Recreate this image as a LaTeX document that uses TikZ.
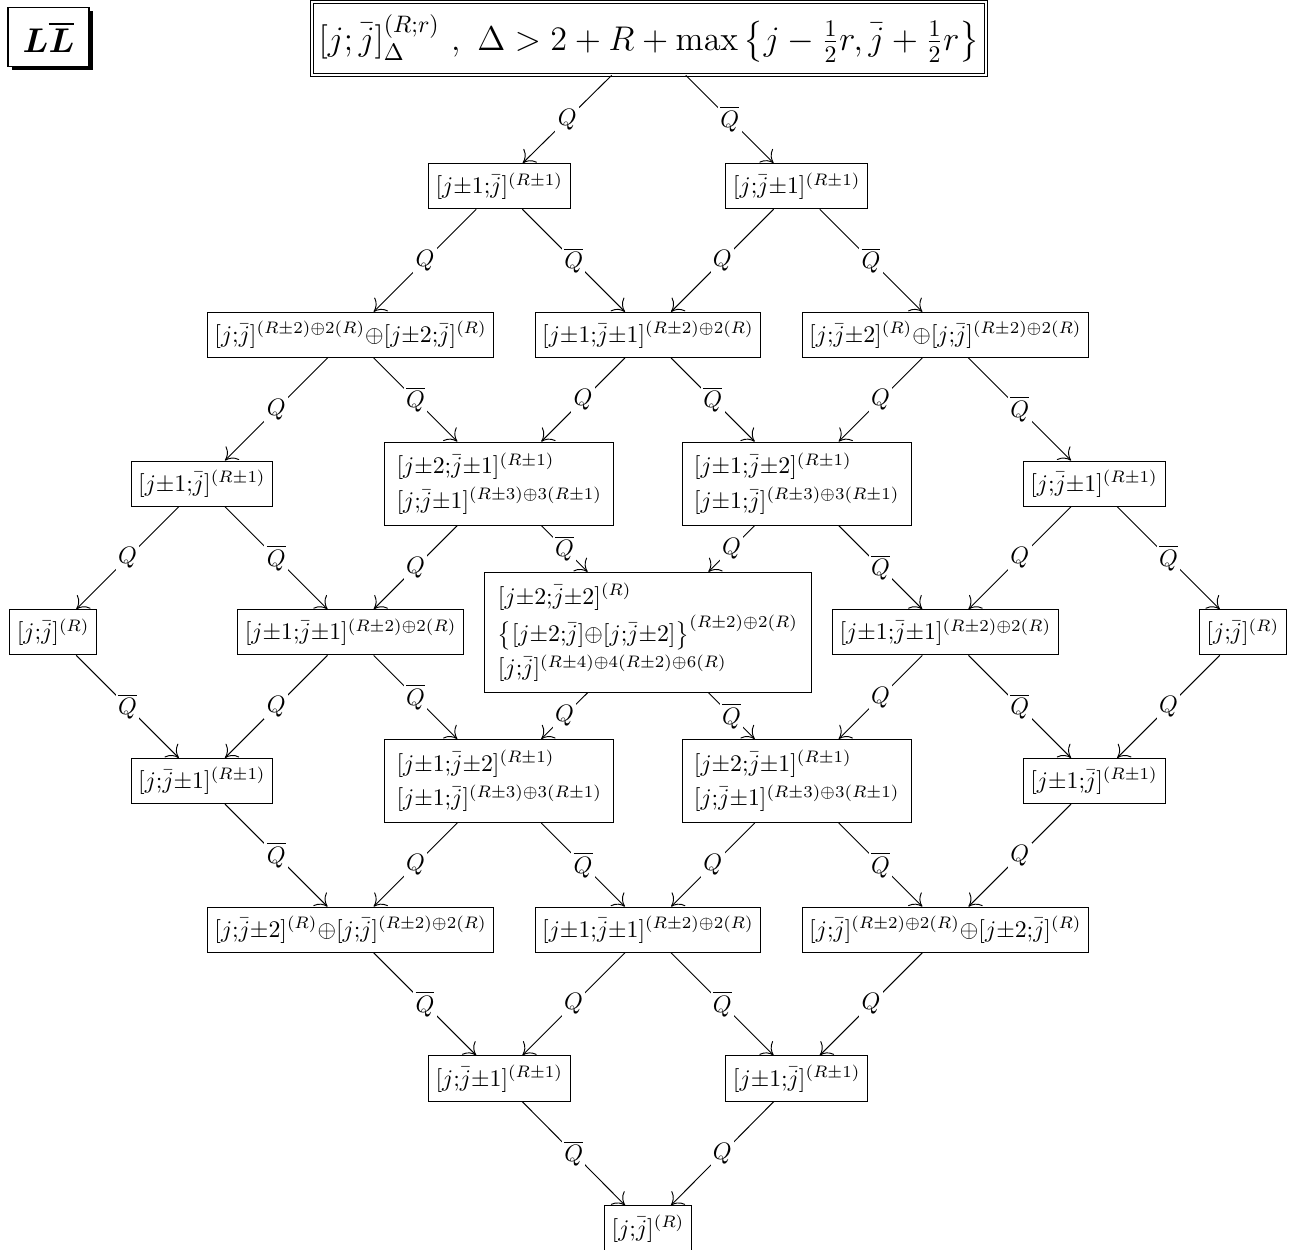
\documentclass[tikz,border=0pt]{standalone}
\usepackage{amsmath,bm}
\usetikzlibrary{arrows.meta,shadows}
\newcommand\Br[2]{[#1{;}#2]}
\newcommand\jb{\bar{j}}
\newcommand\ppm{{\pm}}
\newcommand\opl{{\oplus}}
\newcommand\Qb{\overline{Q}}
\begin{document}
\begin{tikzpicture}[x=0.42pt,y=-0.42pt,
  box/.style={draw, fill=white, inner xsep=3pt, inner ysep=3.8pt, line width=0.4pt},
  mbox/.style={box, align=left, inner xsep=5pt, inner ysep=4.5pt},
  arr/.style={-{To[length=4.6pt,width=8pt]}, line width=0.4pt},
  lab/.style={fill=white, inner sep=1pt, pos=0.5}]
\useasboundingbox (0,0) rectangle (1299,1249);

\node[draw, fill=white, line width=0.5pt, minimum width=34pt, minimum height=25pt, inner sep=0pt,
  drop shadow={shadow xshift=1.5pt, shadow yshift=-1.5pt, opacity=1, fill=black}] (tag) at (48.5,37)
  {\Large$\bm{L\overline{L}}$};

\node[draw, double, double distance=0.8pt, line width=0.4pt, fill=white, minimum width=283pt, minimum height=30.5pt, inner sep=2pt] (r0) at (649,38.5)
  {\Large$[j;\bar j]^{(R;r)}_{\Delta}\ ,\ \Delta>2+R+\max\left\{j-\tfrac12 r,\bar j+\tfrac12 r\right\}$};

% row 1
\node[box] (r1a) at (499.3,186.2) {$\Br{j\ppm1}{\jb}^{(R\pm1)}$};
\node[box] (r1b) at (796.7,186.2) {$\Br{j}{\jb\ppm1}^{(R\pm1)}$};
% row 2
\node[box] (r2a) at (350.6,334.9) {$\Br{j}{\jb}^{(R\pm2)\oplus2(R)}\opl\Br{j\ppm2}{\jb}^{(R)}$};
\node[box] (r2b) at (648,334.9) {$\Br{j\ppm1}{\jb\ppm1}^{(R\pm2)\oplus2(R)}$};
\node[box] (r2c) at (945.4,334.9) {$\Br{j}{\jb\ppm2}^{(R)}\opl\Br{j}{\jb}^{(R\pm2)\oplus2(R)}$};
% row 3
\node[box] (r3a) at (201.9,483.6) {$\Br{j\ppm1}{\jb}^{(R\pm1)}$};
\node[mbox] (r3b) at (499.3,483.6) {$\Br{j\ppm2}{\jb\ppm1}^{(R\pm1)}$\\[2.5pt]$\Br{j}{\jb\ppm1}^{(R\pm3)\oplus3(R\pm1)}$};
\node[mbox] (r3c) at (796.7,483.6) {$\Br{j\ppm1}{\jb\ppm2}^{(R\pm1)}$\\[2.5pt]$\Br{j\ppm1}{\jb}^{(R\pm3)\oplus3(R\pm1)}$};
\node[box] (r3d) at (1094.1,483.6) {$\Br{j}{\jb\ppm1}^{(R\pm1)}$};
% row 4
\node[box] (r4a) at (53.2,632.3) {$\Br{j}{\jb}^{(R)}$};
\node[box] (r4b) at (350.6,632.3) {$\Br{j\ppm1}{\jb\ppm1}^{(R\pm2)\oplus2(R)}$};
\node[mbox, inner xsep=5.5pt, inner ysep=4.4pt] (r4c) at (648,632.3) {$\Br{j\ppm2}{\jb\ppm2}^{(R)}$\\[1pt]$\bigl\{\Br{j\ppm2}{\jb}\opl\Br{j}{\jb\ppm2}\bigr\}^{(R\pm2)\oplus2(R)}$\\[1pt]$\Br{j}{\jb}^{(R\pm4)\oplus4(R\pm2)\oplus6(R)}$};
\node[box] (r4d) at (945.4,632.3) {$\Br{j\ppm1}{\jb\ppm1}^{(R\pm2)\oplus2(R)}$};
\node[box] (r4e) at (1242.8,632.3) {$\Br{j}{\jb}^{(R)}$};
% row 5
\node[box] (r5a) at (201.9,781) {$\Br{j}{\jb\ppm1}^{(R\pm1)}$};
\node[mbox] (r5b) at (499.3,781) {$\Br{j\ppm1}{\jb\ppm2}^{(R\pm1)}$\\[2.5pt]$\Br{j\ppm1}{\jb}^{(R\pm3)\oplus3(R\pm1)}$};
\node[mbox] (r5c) at (796.7,781) {$\Br{j\ppm2}{\jb\ppm1}^{(R\pm1)}$\\[2.5pt]$\Br{j}{\jb\ppm1}^{(R\pm3)\oplus3(R\pm1)}$};
\node[box] (r5d) at (1094.1,781) {$\Br{j\ppm1}{\jb}^{(R\pm1)}$};
% row 6
\node[box] (r6a) at (350.6,929.7) {$\Br{j}{\jb\ppm2}^{(R)}\opl\Br{j}{\jb}^{(R\pm2)\oplus2(R)}$};
\node[box] (r6b) at (648,929.7) {$\Br{j\ppm1}{\jb\ppm1}^{(R\pm2)\oplus2(R)}$};
\node[box] (r6c) at (945.4,929.7) {$\Br{j}{\jb}^{(R\pm2)\oplus2(R)}\opl\Br{j\ppm2}{\jb}^{(R)}$};
% row 7
\node[box] (r7a) at (499.3,1078.4) {$\Br{j}{\jb\ppm1}^{(R\pm1)}$};
\node[box] (r7b) at (796.7,1078.4) {$\Br{j\ppm1}{\jb}^{(R\pm1)}$};
% row 8
\node[box] (r8) at (648,1228.5) {$\Br{j}{\jb}^{(R)}$};

% edges
\draw[arr] (r0) -- node[lab]{$Q$} (r1a);
\draw[arr] (r0) -- node[lab]{$\Qb$} (r1b);
\draw[arr] (r1a) -- node[lab]{$Q$} (r2a);
\draw[arr] (r1a) -- node[lab]{$\Qb$} (r2b);
\draw[arr] (r1b) -- node[lab]{$Q$} (r2b);
\draw[arr] (r1b) -- node[lab]{$\Qb$} (r2c);
\draw[arr] (r2a) -- node[lab]{$Q$} (r3a);
\draw[arr] (r2a) -- node[lab]{$\Qb$} (r3b);
\draw[arr] (r2b) -- node[lab]{$Q$} (r3b);
\draw[arr] (r2b) -- node[lab]{$\Qb$} (r3c);
\draw[arr] (r2c) -- node[lab]{$Q$} (r3c);
\draw[arr] (r2c) -- node[lab]{$\Qb$} (r3d);
\draw[arr] (r3a) -- node[lab]{$Q$} (r4a);
\draw[arr] (r3a) -- node[lab]{$\Qb$} (r4b);
\draw[arr] (r3b) -- node[lab]{$Q$} (r4b);
\draw[arr] (r3b) -- node[lab]{$\Qb$} (r4c);
\draw[arr] (r3c) -- node[lab]{$Q$} (r4c);
\draw[arr] (r3c) -- node[lab]{$\Qb$} (r4d);
\draw[arr] (r3d) -- node[lab]{$Q$} (r4d);
\draw[arr] (r3d) -- node[lab]{$\Qb$} (r4e);
\draw[arr] (r4a) -- node[lab]{$\Qb$} (r5a);
\draw[arr] (r4b) -- node[lab]{$Q$} (r5a);
\draw[arr] (r4b) -- node[lab]{$\Qb$} (r5b);
\draw[arr] (r4c) -- node[lab]{$Q$} (r5b);
\draw[arr] (r4c) -- node[lab]{$\Qb$} (r5c);
\draw[arr] (r4d) -- node[lab]{$Q$} (r5c);
\draw[arr] (r4d) -- node[lab]{$\Qb$} (r5d);
\draw[arr] (r4e) -- node[lab]{$Q$} (r5d);
\draw[arr] (r5a) -- node[lab]{$\Qb$} (r6a);
\draw[arr] (r5b) -- node[lab]{$Q$} (r6a);
\draw[arr] (r5b) -- node[lab]{$\Qb$} (r6b);
\draw[arr] (r5c) -- node[lab]{$Q$} (r6b);
\draw[arr] (r5c) -- node[lab]{$\Qb$} (r6c);
\draw[arr] (r5d) -- node[lab]{$Q$} (r6c);
\draw[arr] (r6a) -- node[lab]{$\Qb$} (r7a);
\draw[arr] (r6b) -- node[lab]{$Q$} (r7a);
\draw[arr] (r6b) -- node[lab]{$\Qb$} (r7b);
\draw[arr] (r6c) -- node[lab]{$Q$} (r7b);
\draw[arr] (r7a) -- node[lab]{$\Qb$} (r8);
\draw[arr] (r7b) -- node[lab]{$Q$} (r8);
\end{tikzpicture}
\end{document}
